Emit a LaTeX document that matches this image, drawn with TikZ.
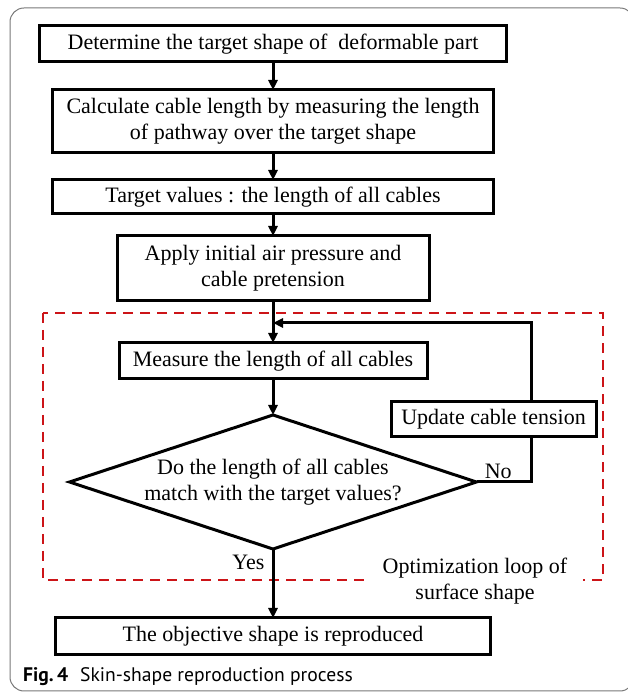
\documentclass[tikz,border=0pt]{standalone}
\usepackage{fontspec}
\setmainfont{Liberation Serif}
\newfontfamily\capfont{PT Sans}
\usetikzlibrary{shapes.geometric,arrows.meta,positioning}
\definecolor{loopred}{RGB}{204,20,24}
\definecolor{framegray}{RGB}{120,120,120}

\begin{document}
\begin{tikzpicture}[
    x=1pt, y=1pt,
    every node/.style={font=\fontsize{22}{26}\selectfont},
    process/.style={rectangle, draw=black, line width=3pt, fill=white, align=center, inner sep=0pt, outer sep=0pt},
    decision/.style={diamond, draw=black, line width=3pt, inner sep=0pt, outer sep=0pt, minimum width=407pt, minimum height=134pt},
    arrow/.style={-{Triangle[length=10pt,width=9pt]}, line width=3pt},
    line/.style={line width=3pt},
    loopbox/.style={draw=loopred, line width=2.8pt, dash pattern=on 10pt off 7pt},
    tag/.style={fill=white, inner sep=4pt}
]
    \useasboundingbox (0,0) rectangle (627,693);
    \draw[framegray, line width=1pt, rounded corners=14pt] (10,2) rectangle (634,685);

    % Optimization loop frame
    \draw[loopbox] (43,380) rectangle (603,113);

    % Main column
    \node[process, minimum width=467pt, minimum height=36pt] (target) at (273,649) {Determine the target shape of\ \ deformable part};
    \node[process, minimum width=441pt, minimum height=63pt, below=28pt of target] (calc) {Calculate cable length by measuring the length\\of pathway over the target shape};
    \node[process, minimum width=441pt, minimum height=34pt, below=27pt of calc] (values) {Target values : the length of all cables};
    \node[process, minimum width=312pt, minimum height=65pt, below=22pt of values] (apply) {Apply initial air pressure and\\cable pretension};
    \node[process, minimum width=308pt, minimum height=36pt, below=42pt of apply] (measure) {Measure the length of all cables};
    \node[decision, below=36pt of measure, label={[align=center]center:Do the length of all cables\\match with the target values?}] (check) {};
    \node[process, minimum width=435pt, minimum height=37pt, below=69pt of check] (result) {The objective shape is reproduced};

    % Loop side
    \node[process, minimum width=205pt, minimum height=35pt] (update) at (493.5,273.5) {Update cable tension};
    \coordinate (noturn) at (531,211);
    \coordinate (fbjoin) at (273,370);

    \node[tag, align=center, inner xsep=16pt, inner ysep=2pt] (looptag) at (475,112) {Optimization loop of\\surface shape};

    % Flow arrows
    \draw[arrow] (target) -- (calc);
    \draw[arrow] (calc) -- (values);
    \draw[arrow] (values) -- (apply);
    \draw[arrow] (apply) -- (measure);
    \draw[arrow] (measure) -- (check);
    \draw[arrow] (check.south) -- node[tag, left, pos=.19, xshift=-3pt] (yestag) {Yes} (result);
    \draw[line] (check.east) -- node[above, pos=.4, inner sep=2pt] (notag) {No} (noturn) -- (noturn |- update.south);
    \draw[arrow] (noturn |- update.north) |- (fbjoin);

    % Caption
    \node[anchor=base west, inner sep=0pt, font={\capfont\fontsize{19.6}{22}\selectfont}] (caption) at (23,11) {\textbf{Fig.\,4}\hspace{12pt}Skin-shape reproduction process};
\end{tikzpicture}
\end{document}
